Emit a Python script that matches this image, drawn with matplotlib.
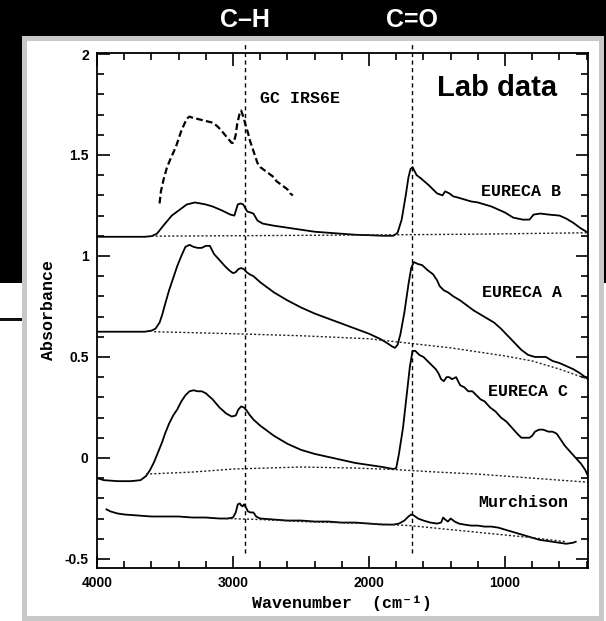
import matplotlib.pyplot as plt
from matplotlib.patches import Rectangle
from matplotlib.ticker import MultipleLocator

# spectra (wavenumber in cm-1, absorbance)
gc_wn = [3540, 3530, 3510, 3485, 3460, 3440, 3420, 3400, 3380, 3360, 3340, 3320, 3300,
         3270, 3240, 3210, 3180, 3150, 3120, 3090, 3060, 3035, 3010, 2995, 2980, 2970,
         2960, 2950, 2940, 2930, 2920, 2905, 2890, 2875, 2860, 2840, 2820, 2800, 2780,
         2760, 2740, 2720, 2700, 2680, 2660, 2640, 2620, 2600, 2580, 2560]
gc_ab = [1.26, 1.32, 1.38, 1.44, 1.48, 1.51, 1.54, 1.58, 1.62, 1.65, 1.68, 1.69, 1.685,
         1.68, 1.675, 1.67, 1.665, 1.66, 1.645, 1.625, 1.60, 1.58, 1.56, 1.56, 1.60, 1.65,
         1.68, 1.71, 1.72, 1.70, 1.68, 1.64, 1.61, 1.57, 1.54, 1.50, 1.46, 1.44, 1.43,
         1.42, 1.41, 1.40, 1.39, 1.37, 1.36, 1.35, 1.34, 1.33, 1.31, 1.30]

eb_wn = [4000, 3800, 3650, 3600, 3560, 3500, 3450, 3400, 3340, 3280, 3200, 3150, 3080,
         3020, 2990, 2965, 2945, 2925, 2895, 2870, 2850, 2820, 2780, 2700, 2600, 2500,
         2400, 2300, 2200, 2100, 2000, 1900, 1820, 1790, 1760, 1730, 1710, 1695, 1680,
         1650, 1620, 1560, 1500, 1460, 1440, 1410, 1380, 1350, 1300, 1250, 1200, 1100,
         1000, 940, 870, 820, 790, 740, 680, 600, 550, 500, 450, 390]
eb_ab = [1.095, 1.095, 1.095, 1.098, 1.11, 1.16, 1.20, 1.225, 1.255, 1.265, 1.255, 1.245,
         1.225, 1.205, 1.20, 1.255, 1.26, 1.255, 1.22, 1.215, 1.21, 1.175, 1.16, 1.15,
         1.14, 1.13, 1.12, 1.115, 1.11, 1.105, 1.103, 1.10, 1.10, 1.115, 1.18, 1.30, 1.39,
         1.43, 1.44, 1.40, 1.385, 1.35, 1.31, 1.30, 1.32, 1.31, 1.295, 1.29, 1.28, 1.27,
         1.265, 1.245, 1.215, 1.19, 1.18, 1.18, 1.205, 1.21, 1.205, 1.20, 1.185, 1.165,
         1.14, 1.115]
eb_base_wn = [3600, 2500, 1800, 1200, 390]
eb_base_ab = [1.098, 1.102, 1.105, 1.108, 1.115]

ea_wn = [4000, 3800, 3650, 3600, 3570, 3540, 3520, 3500, 3470, 3440, 3410, 3380, 3350,
         3320, 3290, 3260, 3230, 3200, 3170, 3140, 3100, 3060, 3030, 3000, 2980, 2960,
         2940, 2920, 2900, 2880, 2850, 2800, 2700, 2600, 2500, 2400, 2300, 2200, 2100,
         2000, 1920, 1870, 1830, 1810, 1790, 1770, 1740, 1710, 1690, 1670, 1640, 1610,
         1570, 1530, 1500, 1480, 1450, 1420, 1380, 1330, 1280, 1230, 1180, 1130, 1080,
         1030, 980, 930, 880, 830, 780, 740, 700, 650, 600, 550, 500, 450, 390]
ea_ab = [0.625, 0.625, 0.625, 0.63, 0.64, 0.67, 0.71, 0.76, 0.83, 0.89, 0.95, 1.00, 1.045,
         1.055, 1.045, 1.04, 1.04, 1.05, 1.05, 1.01, 0.98, 0.95, 0.93, 0.915, 0.92, 0.935,
         0.94, 0.935, 0.92, 0.91, 0.90, 0.87, 0.82, 0.78, 0.745, 0.715, 0.69, 0.665,
         0.64, 0.615, 0.59, 0.57, 0.552, 0.545, 0.56, 0.61, 0.72, 0.86, 0.94, 0.97,
         0.96, 0.955, 0.93, 0.91, 0.88, 0.85, 0.83, 0.82, 0.80, 0.78, 0.755, 0.73, 0.71,
         0.69, 0.67, 0.64, 0.605, 0.57, 0.535, 0.51, 0.50, 0.50, 0.50, 0.48, 0.47, 0.455,
         0.44, 0.42, 0.39]
ea_base_wn = [3580, 3000, 2500, 2000, 1800, 1600, 1400, 1200, 1000, 800, 600, 390]
ea_base_ab = [0.625, 0.615, 0.605, 0.59, 0.575, 0.56, 0.545, 0.525, 0.505, 0.48, 0.44, 0.39]

ec_wn = [4000, 3950, 3850, 3750, 3680, 3640, 3610, 3580, 3550, 3520, 3500, 3470, 3440,
         3410, 3380, 3350, 3320, 3290, 3260, 3230, 3200, 3150, 3100, 3050, 3010, 2980,
         2960, 2940, 2920, 2900, 2880, 2850, 2800, 2700, 2600, 2500, 2400, 2300, 2200,
         2100, 2000, 1900, 1820, 1800, 1780, 1750, 1720, 1700, 1680, 1660, 1630, 1600,
         1570, 1540, 1510, 1490, 1470, 1450, 1430, 1410, 1390, 1360, 1330, 1300, 1270,
         1240, 1210, 1180, 1150, 1110, 1070, 1030, 990, 950, 910, 880, 850, 820, 800, 780,
         750, 720, 680, 650, 620, 590, 560, 520, 480, 440, 410, 390]
ec_ab = [-0.10, -0.11, -0.115, -0.115, -0.11, -0.09, -0.06, -0.02, 0.03, 0.08, 0.12,
         0.17, 0.21, 0.24, 0.28, 0.31, 0.33, 0.335, 0.33, 0.33, 0.32, 0.29, 0.25, 0.22,
         0.205, 0.21, 0.24, 0.255, 0.25, 0.235, 0.215, 0.19, 0.16, 0.11, 0.07, 0.04, 0.02,
         0.005, -0.01, -0.025, -0.035, -0.045, -0.055, -0.05, 0.02, 0.15, 0.33, 0.45, 0.53,
         0.53, 0.51, 0.50, 0.48, 0.46, 0.44, 0.42, 0.39, 0.38, 0.40, 0.40, 0.39, 0.40, 0.36,
         0.35, 0.33, 0.33, 0.31, 0.29, 0.28, 0.25, 0.23, 0.20, 0.18, 0.15, 0.12, 0.10, 0.10,
         0.10, 0.11, 0.13, 0.14, 0.14, 0.13, 0.13, 0.12, 0.09, 0.06, 0.03, 0.00, -0.03,
         -0.06, -0.09]
ec_base_wn = [3640, 3300, 3000, 2500, 2100, 1800, 1500, 1200, 900, 600, 390]
ec_base_ab = [-0.08, -0.07, -0.055, -0.045, -0.05, -0.058, -0.07, -0.08, -0.095, -0.11, -0.12]

mu_wn = [3930, 3900, 3850, 3800, 3700, 3600, 3500, 3400, 3300, 3200, 3100, 3040, 3000,
         2980, 2965, 2950, 2940, 2930, 2920, 2905, 2890, 2870, 2850, 2830, 2800, 2700,
         2600, 2500, 2400, 2300, 2200, 2100, 2000, 1900, 1820, 1780, 1740, 1710, 1690,
         1670, 1640, 1600, 1550, 1500, 1470, 1455, 1440, 1420, 1400, 1390, 1370, 1340,
         1300, 1250, 1200, 1150, 1100, 1050, 1000, 950, 900, 850, 800, 750, 700, 650, 600,
         550, 500, 480]
mu_ab = [-0.255, -0.265, -0.275, -0.28, -0.285, -0.29, -0.29, -0.29, -0.295, -0.295,
         -0.30, -0.30, -0.295, -0.27, -0.23, -0.225, -0.235, -0.24, -0.23, -0.245, -0.265,
         -0.27, -0.27, -0.29, -0.30, -0.305, -0.31, -0.31, -0.315, -0.315, -0.32, -0.32,
         -0.325, -0.33, -0.33, -0.325, -0.31, -0.29, -0.28, -0.285, -0.30, -0.31, -0.32,
         -0.325, -0.32, -0.295, -0.305, -0.315, -0.30, -0.305, -0.315, -0.325, -0.33,
         -0.335, -0.335, -0.34, -0.34, -0.345, -0.355, -0.365, -0.375, -0.385, -0.395,
         -0.405, -0.41, -0.415, -0.42, -0.425, -0.42, -0.415]
mu_base_wn = [3050, 2800, 2500, 2000, 1700, 1400, 1100, 800, 550]
mu_base_ab = [-0.30, -0.305, -0.315, -0.325, -0.335, -0.355, -0.375, -0.395, -0.415]

# band positions (C-H stretch, C=O stretch)
band_wn = [2910, 1685]
band_names = ['C\u2013H', 'C=O']

curve_names = ['GC IRS6E', 'EURECA B', 'EURECA A', 'EURECA C', 'Murchison']
name_x = [2510, 880, 875, 830, 868]
name_y = [1.78, 1.32, 0.82, 0.33, -0.22]

W, H = 606, 621
fig = plt.figure(figsize=(W / 100, H / 100), dpi=100, facecolor='white')

# slide background: black header, grey framed panel, little rule on the left
fig.patches.append(Rectangle((0, 1 - 283 / H), 1, 283 / H, transform=fig.transFigure,
                             facecolor='black', edgecolor='none', zorder=-4))
fig.patches.append(Rectangle((22 / W, 0), 582 / W, (H - 36) / H, transform=fig.transFigure,
                             facecolor='#c8c8c8', edgecolor='none', zorder=-3))
fig.patches.append(Rectangle((27 / W, 5 / H), 572 / W, (H - 46) / H, transform=fig.transFigure,
                             facecolor='white', edgecolor='none', zorder=-2))
fig.patches.append(Rectangle((0, 1 - 320.5 / H), 22 / W, 3 / H, transform=fig.transFigure,
                             facecolor='#111111', edgecolor='none', zorder=-2))

ax = fig.add_axes([97 / W, 1 - 568 / H, 491 / W, 515 / H])
ax.set_facecolor('none')

lw = 1.3
ax.plot(gc_wn, gc_ab, color='black', lw=1.6, ls=(0, (3, 1.5)))
for wn, ab in [(eb_wn, eb_ab), (ea_wn, ea_ab), (ec_wn, ec_ab), (mu_wn, mu_ab)]:
    ax.plot(wn, ab, color='black', lw=lw)
for wn, ab in [(eb_base_wn, eb_base_ab), (ea_base_wn, ea_base_ab),
               (ec_base_wn, ec_base_ab), (mu_base_wn, mu_base_ab)]:
    ax.plot(wn, ab, color='#222222', lw=1.0, ls=(0, (1.5, 1.5)))

for x, name in zip(band_wn, band_names):
    ax.plot([x, x], [-0.47, 2.06], color='black', lw=1.0, ls=(0, (3, 2.5)), clip_on=False)
    ax.text(x, 2.17, name, color='white', fontsize=18, fontweight='bold',
            family='Liberation Sans', ha='center', va='center', clip_on=False)

for x, y, name in zip(name_x, name_y, curve_names):
    ax.text(x, y, name, fontsize=12, fontweight='bold', family='Liberation Mono',
            ha='center', va='center')

ax.text(1060, 1.83, 'Lab data', fontsize=21, fontweight='bold', family='Liberation Sans',
        ha='center', va='center')

ax.set_xlim(4000, 390)
ax.set_ylim(-0.545, 2.005)
ax.xaxis.set_major_locator(MultipleLocator(1000))
ax.xaxis.set_minor_locator(MultipleLocator(200))
ax.yaxis.set_major_locator(MultipleLocator(0.5))
ax.yaxis.set_minor_locator(MultipleLocator(0.1))
ax.tick_params(which='both', direction='in', top=True, right=True, width=1.2)
ax.tick_params(which='major', length=9, pad=6)
ax.tick_params(which='minor', length=5)
ax.set_yticks([-0.5, 0, 0.5, 1, 1.5, 2])
ax.set_yticklabels(['-0.5', '0', '0.5', '1', '1.5', '2'])
for lab in ax.get_xticklabels() + ax.get_yticklabels():
    lab.set_family('Liberation Sans')
    lab.set_fontweight('bold')
    lab.set_fontsize(10)
for sp in ax.spines.values():
    sp.set_linewidth(1.3)

ax.set_xlabel('Wavenumber  (cm\u207b\u00b9)', fontsize=12, fontweight='bold',
              family=['Liberation Mono', 'DejaVu Sans Mono'], labelpad=4)
ax.set_ylabel('Absorbance', fontsize=12, fontweight='bold', family='Liberation Mono')
ax.yaxis.set_label_coords(-0.083, 0.5)

fig.savefig('out.png', dpi=100, facecolor=fig.get_facecolor())
